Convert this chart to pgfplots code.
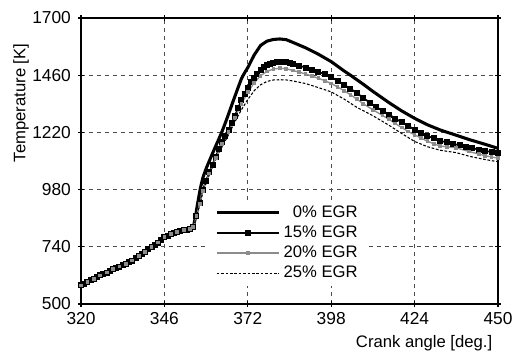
\documentclass[border=0pt]{standalone}
\usepackage{pgfplots}
\pgfplotsset{compat=1.18}
\usepackage{fontspec}
\setmainfont{Liberation Sans}
\begin{document}
\fontsize{12.5}{15}\selectfont
\begin{tikzpicture}
\path[use as bounding box] (-60.75pt,-36.75pt) rectangle (324pt,228pt);
\begin{axis}[
  scale only axis,
  width=312.75pt, height=214.5pt,
  xmin=320, xmax=450, ymin=500, ymax=1700,
  xtick={320,346,372,398,424,450},
  ytick={500,740,980,1220,1460,1700},
  /pgf/number format/assume math mode=true,
  /pgf/number format/set thousands separator={},
  tick label style={font=\fontsize{13}{15}\selectfont},
  label style={font=\fontsize{12.5}{15}\selectfont},
  axis line style={black, line width=1.3pt},
  tick align=center,
  major tick length=4.5pt,
  tick style={black, line width=1pt},
  grid=major,
  major grid style={dash pattern=on 3pt off 3pt, color=black!70, line width=0.9pt},
  xlabel={Crank angle [deg.]},
  ylabel={Temperature [K]},
  xlabel style={at={(axis description cs:1,-0.136)}, anchor=east},
  ylabel style={at={(axis description cs:-0.144,0.703)}, anchor=center},
  yticklabel style={xshift=-1pt},
  legend cell align=right,
  legend style={at={(rel axis cs:0.302,0.364)}, anchor=north west, draw=none, fill=white,
    font=\fontsize{12.5}{15}\selectfont, row sep=0.6pt, inner xsep=6pt, inner ysep=2pt},
  legend image code/.code={\draw[#1, mark repeat=2, mark phase=2] plot coordinates {(0pt,0pt) (23.5pt,0pt) (47pt,0pt)};},
]
\addplot[black, line width=2.3pt] coordinates {
(320,578) (324,606) (328,632) (332,657) (336,682) (340,719) (344,758) (346,780) (348,794) (350,803) (352,809) (354,815) (355,822)
(355.6,860) (356.4,925) (357.2,985) (358,1030) (359,1068) (360,1100) (361,1132) (362,1163) (363,1193) (364,1225) (365,1260) (366,1297) (367,1335) (368,1372) (369,1409) (370,1445) (371,1470) (372,1492) (374,1545) (376,1585) (378,1603) (380,1610) (382,1612) (384,1609) (386,1598) (390,1575) (394,1548) (398,1517) (402,1478) (404,1460) (408,1422) (411,1392) (416,1345) (420,1310) (424,1279) (428,1252) (432,1230) (437,1208) (441,1190) (446,1170) (450,1153)
};
\addlegendentry{0\% EGR\hspace{42pt}}
\addplot[black, line width=1.3pt, mark=square*, mark size=1.6pt, mark options={solid}] coordinates {
(320,578) (321,585) (322,592) (323,599) (324,606) (325,613) (326,620) (327,626) (328,632) (329,639) (330,646) (331,651) (332,657) (333,662) (334,668) (335,675) (336,682) (337,691) (338,700) (339,709) (340,719) (341,729) (342,740) (343,749) (344,758) (345,769) (346,780) (347,787) (348,794) (349,799) (350,803) (351,806) (352,809) (353,812) (354,815) (355,822)
(356,870) (357,925) (358,980) (359,1018) (360,1052) (361,1085) (362,1118) (363,1150) (364,1180) (365,1206) (366,1232) (367,1260) (368,1290) (369,1323) (370,1355) (371,1383) (372,1408) (373,1430) (374,1450) (375,1467) (376,1482) (377,1493) (378,1502) (379,1508) (380,1513) (381,1516) (382,1517) (383,1516) (384,1515) (385,1512) (386,1508) (388,1500) (390,1492) (392,1483) (394,1474) (396,1464) (398,1452) (400,1437) (402,1420) (404,1403) (406,1385) (408,1365) (410,1345) (412,1327) (414,1311) (416,1295) (418,1278) (420,1262) (422,1247) (424,1232) (426,1218) (428,1205) (430,1195) (432,1185) (434,1178) (436,1172) (438,1166) (440,1160) (442,1154) (444,1148) (446,1143) (448,1137) (450,1132)
};
\addlegendentry{15\% EGR\hspace{42pt}}
\addplot[black!45, line width=1pt, mark=square*, mark size=0.9pt, mark options={solid}] coordinates {
(320,578) (322,592) (324,606) (326,620) (328,632) (330,646) (332,657) (334,668) (336,682) (338,700) (340,719) (342,740) (344,758) (346,780) (348,794) (350,803) (352,809) (354,815) (355,822)
(356,868) (357,920) (358,975) (360,1048) (362,1112) (364,1170) (366,1222) (368,1282) (370,1340) (372,1388) (374,1428) (376,1458) (378,1476) (380,1486) (382,1489) (384,1487) (386,1480) (388,1473) (390,1465) (392,1456) (394,1447) (396,1437) (398,1425) (400,1411) (402,1395) (404,1378) (406,1360) (408,1340) (411,1315) (414,1291) (416,1275) (418,1257) (420,1240) (422,1224) (424,1210) (426,1196) (428,1183) (430,1172) (432,1163) (434,1160) (437,1155) (441,1140) (444,1129) (446,1122) (448,1117) (450,1112)
};
\addlegendentry{20\% EGR\hspace{42pt}}
\addplot[black, line width=0.8pt, dash pattern=on 2pt off 1.3pt] coordinates {
(320,578) (324,606) (328,632) (332,657) (336,682) (340,719) (344,758) (346,780) (348,794) (350,803) (352,809) (354,815) (355,822)
(356,865) (357,915) (358,970) (360,1042) (362,1105) (364,1160) (366,1210) (368,1265) (370,1315) (372,1358) (374,1395) (376,1420) (378,1434) (380,1440) (382,1441) (384,1440) (386,1436) (390,1425) (394,1408) (398,1390) (402,1360) (406,1325) (411,1290) (416,1250) (420,1215) (424,1182) (428,1160) (432,1145) (437,1135) (441,1120) (446,1106) (450,1097)
};
\addlegendentry{25\% EGR\hspace{42pt}}
\end{axis}
\end{tikzpicture}
\end{document}
